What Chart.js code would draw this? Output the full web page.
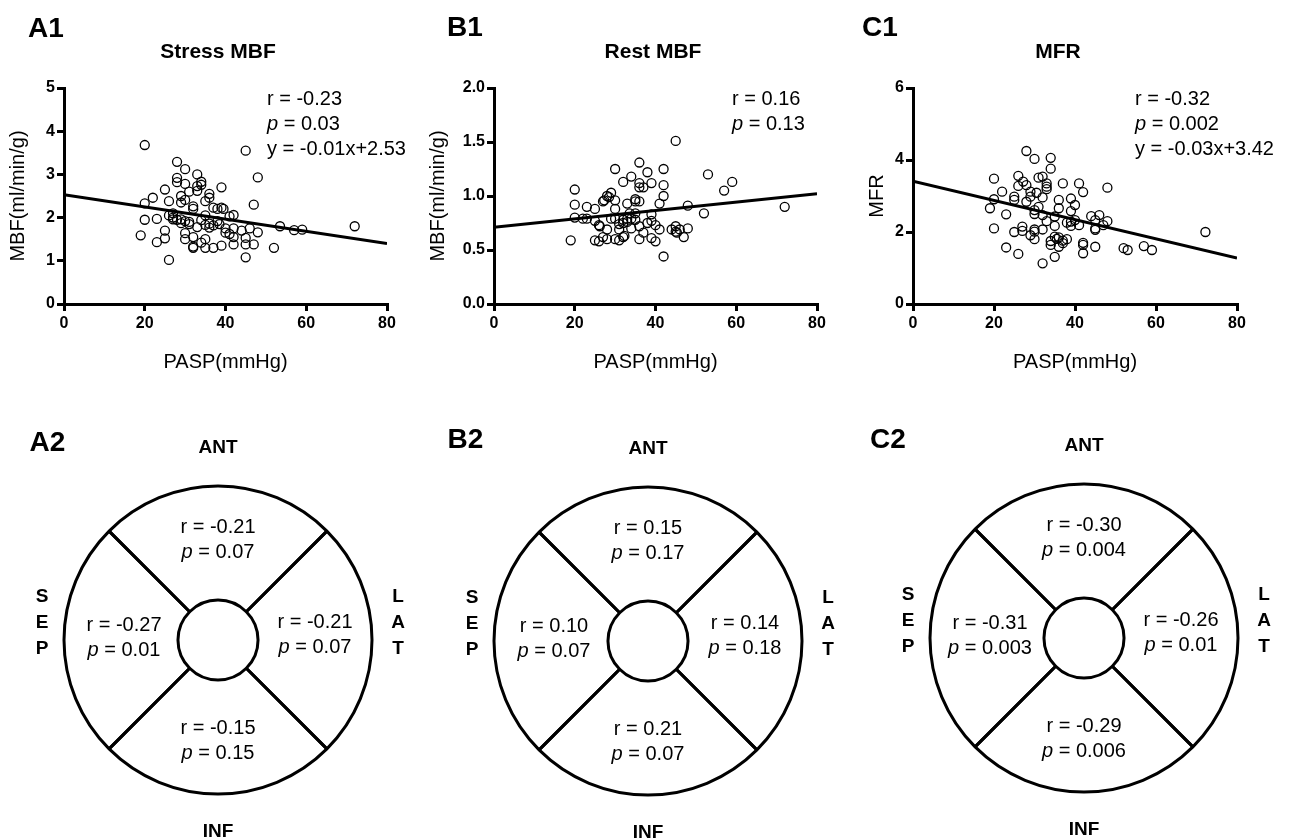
<!DOCTYPE html>
<html>
<head>
<meta charset="utf-8">
<script src="https://cdn.jsdelivr.net/npm/chart.js@4.4.1/dist/chart.umd.min.js"></script>
<style>
    body { margin: 0; background: #fff; width: 1295px; height: 840px; overflow: hidden; position: relative; }
    canvas { position: absolute; }
</style>
</head>
<body>
<canvas id="chartA1" width="430" height="390" style="left:0px;top:0px"></canvas>
<canvas id="chartB1" width="430" height="390" style="left:420px;top:0px"></canvas>
<canvas id="chartC1" width="440" height="390" style="left:855px;top:0px"></canvas>
<canvas id="chartA2" width="440" height="440" style="left:-2.5px;top:420px"></canvas>
<canvas id="chartB2" width="440" height="440" style="left:427.5px;top:421px"></canvas>
<canvas id="chartC2" width="440" height="440" style="left:864px;top:418px"></canvas>
<script>
const FONT = '"Liberation Sans", Arial, Helvetica, sans-serif';

// ---- scatter data (PASP vs flow) ----
const stressX = [20, 45, 28, 30, 33, 28, 48, 28, 34, 30, 34, 39, 25, 31, 33, 36, 29, 22, 36, 26, 30, 35, 29, 20, 32, 32, 37, 39, 39.5, 47,
    38, 27, 35, 42, 41, 26, 23, 20, 27, 28, 29, 30, 31, 31, 34, 38, 38.5, 35, 36, 37, 36, 29, 40, 42, 44, 46, 40, 48, 53.5, 57,
    59, 72, 33, 19, 25, 25, 23, 30, 32, 35, 42, 45, 34, 35, 32, 32, 37, 39, 42, 45, 47, 52, 45, 26, 30, 41, 33, 27];
const stressY = [3.68, 3.55, 3.29, 3.12, 3.0, 2.92, 2.93, 2.82, 2.83, 2.78, 2.76, 2.7, 2.65, 2.6, 2.62, 2.55, 2.5, 2.46, 2.46, 2.38, 2.41, 2.38, 2.35, 2.33, 2.26, 2.2, 2.23, 2.23, 2.2, 2.3,
    2.2, 2.1, 2.05, 2.06, 2.03, 2.05, 1.97, 1.95, 1.96, 1.95, 1.96, 1.92, 1.9, 1.85, 1.94, 1.92, 1.85, 1.83, 1.77, 1.82, 1.86, 1.87, 1.75, 1.75, 1.7, 1.75, 1.65, 1.66, 1.8, 1.71,
    1.72, 1.8, 1.78, 1.59, 1.7, 1.52, 1.43, 1.5, 1.55, 1.5, 1.55, 1.53, 1.42, 1.3, 1.33, 1.3, 1.3, 1.35, 1.38, 1.38, 1.38, 1.3, 1.08, 1.02, 1.64, 1.62, 2.73, 2.0];
const stressFitX = [0, 80];
const stressFitY = [2.53, 1.40];

const restX = [45, 36, 30, 42, 38, 53, 34, 32, 36, 39, 59, 36, 37, 42, 20, 57, 29, 28, 28.5, 42, 27, 27.3, 30, 35, 35, 36, 20, 23, 25, 33,
    41, 48, 72, 30, 33.6, 35, 39, 52, 20, 22, 23, 25, 29, 30, 32, 33, 34, 35, 26, 26.2, 31, 32, 33, 36, 38, 39, 40, 41, 45, 44,
    45, 45.3, 46, 48, 47, 28, 31, 34, 37, 27, 32, 32.3, 19, 25, 26, 28, 30, 31, 36, 39, 40, 42];
const restY = [1.51, 1.31, 1.25, 1.25, 1.22, 1.2, 1.18, 1.13, 1.12, 1.12, 1.13, 1.08, 1.08, 1.1, 1.06, 1.05, 1.03, 1.0, 0.99, 1.0, 0.95, 0.96, 0.96, 0.97, 0.95, 0.95, 0.92, 0.9, 0.88, 0.93,
    0.93, 0.91, 0.9, 0.88, 0.84, 0.84, 0.83, 0.84, 0.8, 0.79, 0.79, 0.77, 0.79, 0.79, 0.78, 0.79, 0.79, 0.78, 0.73, 0.72, 0.74, 0.75, 0.76, 0.72, 0.75, 0.77, 0.73, 0.69, 0.72, 0.69,
    0.67, 0.66, 0.69, 0.7, 0.62, 0.69, 0.69, 0.7, 0.66, 0.62, 0.62, 0.63, 0.59, 0.59, 0.58, 0.6, 0.6, 0.59, 0.6, 0.61, 0.58, 0.44];
const restFitX = [0, 80];
const restFitY = [0.71, 1.02];

const mfrX = [28, 30, 34, 34, 26, 27.2, 31, 32, 20, 28, 33, 33, 33, 37, 41, 48, 26, 29, 30.5, 42, 22, 25, 25, 32, 36, 39, 20, 28, 29, 40,
    31, 36, 19, 30, 39, 30, 23, 32, 35, 44, 46, 40, 39, 38, 33, 41, 39, 45, 48, 47, 35, 45, 45, 27, 27, 20, 30, 30, 32, 25,
    72.2, 29, 30, 35, 35.5, 36, 38, 37, 34, 42, 42, 34, 36, 37, 45, 52, 53, 57, 59, 23, 42, 26, 35, 32];
const mfrY = [4.25, 4.03, 4.06, 3.76, 3.56, 3.4, 3.51, 3.54, 3.48, 3.3, 3.35, 3.26, 3.19, 3.35, 3.35, 3.23, 3.28, 3.12, 3.09, 3.11, 3.12, 2.98, 2.89, 2.96, 2.89, 2.93, 2.91, 2.84, 2.98, 2.75,
    2.7, 2.66, 2.66, 2.61, 2.58, 2.5, 2.49, 2.47, 2.43, 2.44, 2.47, 2.33, 2.29, 2.26, 2.3, 2.19, 2.17, 2.33, 2.3, 2.19, 2.17, 2.1, 2.06, 2.15, 2.03, 2.1, 2.07, 2.01, 2.07, 2.0,
    2.0, 1.91, 1.8, 1.87, 1.81, 1.85, 1.8, 1.76, 1.75, 1.7, 1.64, 1.64, 1.59, 1.69, 1.59, 1.55, 1.5, 1.61, 1.5, 1.57, 1.41, 1.39, 1.31, 1.13];
const mfrFitX = [0, 80];
const mfrFitY = [3.41, 1.28];

// ---- polar map data (order: ANT, LAT, INF, SEP) ----
const segNames = ['ANT', 'LAT', 'INF', 'SEP'];
const segWeights = [1, 1, 1, 1];
const stressR = ['-0.21', '-0.21', '-0.15', '-0.27'];
const stressP = ['0.07', '0.07', '0.15', '0.01'];
const restR = ['0.15', '0.14', '0.21', '0.10'];
const restP = ['0.17', '0.18', '0.07', '0.07'];
const mfrR = ['-0.30', '-0.26', '-0.29', '-0.31'];
const mfrP = ['0.004', '0.01', '0.006', '0.003'];

// draws one text item; a line starting with "p " gets an italic p
function drawItem(ctx, it) {
    const size = it.size || 20;
    const normal = (it.bold ? 'bold ' : '') + size + 'px ' + FONT;
    ctx.textBaseline = 'middle';
    if (it.s.startsWith('p ')) {
        const rest = it.s.slice(1);
        ctx.font = 'italic ' + size + 'px ' + FONT;
        const w1 = ctx.measureText('p').width;
        ctx.font = normal;
        const w2 = ctx.measureText(rest).width;
        let x0 = it.align === 'center' ? it.x - (w1 + w2) / 2 : it.x;
        ctx.textAlign = 'left';
        ctx.font = 'italic ' + size + 'px ' + FONT;
        ctx.fillText('p', x0, it.y);
        ctx.font = normal;
        ctx.fillText(rest, x0 + w1, it.y);
    } else {
        ctx.font = normal;
        ctx.textAlign = it.align || 'left';
        ctx.fillText(it.s, it.x, it.y);
    }
}

// items are given in page coordinates, ox/oy is the canvas position
function textPlugin(items, ox, oy) {
    return {
        id: 'pageText',
        afterDraw(chart) {
            const ctx = chart.ctx;
            ctx.save();
            ctx.translate(-ox, -oy);
            ctx.fillStyle = '#000';
            items.forEach(it => drawItem(ctx, it));
            ctx.restore();
        }
    };
}

function makeScatter(id, o) {
    const pts = o.xs.map((x, i) => ({x: x, y: o.ys[i]}));
    const fit = o.fitX.map((x, i) => ({x: x, y: o.fitY[i]}));
    const axisStyle = {
        grid: {display: true, drawOnChartArea: false, drawTicks: true, tickLength: 7, color: '#000', lineWidth: 3},
        border: {display: true, color: '#000', width: 3}
    };
    return new Chart(document.getElementById(id), {
        type: 'scatter',
        data: {
            datasets: [
                {data: fit, type: 'line', showLine: true, borderColor: '#000', borderWidth: 3, pointRadius: 0, fill: false},
                {data: pts, pointRadius: 4.5, borderWidth: 1.3, borderColor: '#000', backgroundColor: 'rgba(0,0,0,0)'}
            ]
        },
        options: {
            responsive: false,
            animation: false,
            events: [],
            layout: {padding: {left: 0, top: 88, right: o.padRight, bottom: 0}},
            plugins: {legend: {display: false}, tooltip: {enabled: false}},
            scales: {
                x: Object.assign({
                    type: 'linear', min: 0, max: 80,
                    ticks: {stepSize: 20, color: '#000', padding: 3, font: {family: FONT, size: 16, weight: 'bold'}},
                    title: {display: true, text: 'PASP(mmHg)', color: '#000', font: {family: FONT, size: 20}, padding: {top: 0, bottom: 16}},
                    afterFit: s => { s.height = 86; }
                }, axisStyle),
                y: Object.assign({
                    type: 'linear', min: 0, max: o.yMax,
                    ticks: {stepSize: o.yStep, color: '#000', padding: 2, font: {family: FONT, size: 16, weight: 'bold'},
                        callback: v => v.toFixed(o.yDec)},
                    title: {display: true, text: o.yTitle, color: '#000', font: {family: FONT, size: 20}, padding: {top: o.yTitlePad, bottom: 0}},
                    afterFit: s => { s.width = o.yWidth; }
                }, axisStyle)
            }
        },
        plugins: [textPlugin(o.texts, o.ox, 0)]
    });
}

makeScatter('chartA1', {
    xs: stressX, ys: stressY, fitX: stressFitX, fitY: stressFitY,
    yMax: 5, yStep: 1, yDec: 0, yTitle: 'MBF(ml/min/g)', yWidth: 64, yTitlePad: 6, padRight: 43, ox: 0,
    texts: [
        {s: 'A1', x: 28, y: 29, size: 28, bold: true},
        {s: 'Stress MBF', x: 218, y: 52, size: 21, bold: true, align: 'center'},
        {s: 'r = -0.23', x: 267, y: 99},
        {s: 'p = 0.03', x: 267, y: 124},
        {s: 'y = -0.01x+2.53', x: 267, y: 149}
    ]
});

makeScatter('chartB1', {
    xs: restX, ys: restY, fitX: restFitX, fitY: restFitY,
    yMax: 2, yStep: 0.5, yDec: 1, yTitle: 'MBF(ml/min/g)', yWidth: 74, yTitlePad: 6, padRight: 33, ox: 420,
    texts: [
        {s: 'B1', x: 447, y: 28, size: 28, bold: true},
        {s: 'Rest MBF', x: 653, y: 52, size: 21, bold: true, align: 'center'},
        {s: 'r = 0.16', x: 732, y: 99},
        {s: 'p = 0.13', x: 732, y: 124}
    ]
});

makeScatter('chartC1', {
    xs: mfrX, ys: mfrY, fitX: mfrFitX, fitY: mfrFitY,
    yMax: 6, yStep: 2, yDec: 0, yTitle: 'MFR', yWidth: 58, yTitlePad: 10, padRight: 58, ox: 855,
    texts: [
        {s: 'C1', x: 862, y: 28, size: 28, bold: true},
        {s: 'MFR', x: 1058, y: 52, size: 21, bold: true, align: 'center'},
        {s: 'r = -0.32', x: 1135, y: 99},
        {s: 'p = 0.002', x: 1135, y: 124},
        {s: 'y = -0.03x+3.42', x: 1135, y: 149}
    ]
});

// polar maps
function makeBullseye(id, o) {
    const cx = o.cx, cy = o.cy;
    // text offsets for ANT, LAT, INF, SEP regions
    const offs = [[0, -113, -88], [97, -18, 7], [0, 88, 113], [-94, -15, 10]];
    const texts = [
        {s: o.label, x: o.lx, y: o.ly, size: 28, bold: true},
        {s: 'ANT', x: cx, y: cy - 192, size: 19, bold: true, align: 'center'},
        {s: 'INF', x: cx, y: cy + 192, size: 19, bold: true, align: 'center'}
    ];
    ['S', 'E', 'P'].forEach((c, i) => texts.push({s: c, x: cx - 176, y: cy - 43 + i * 26, size: 19, bold: true, align: 'center'}));
    ['L', 'A', 'T'].forEach((c, i) => texts.push({s: c, x: cx + 180, y: cy - 43 + i * 26, size: 19, bold: true, align: 'center'}));
    segNames.forEach((n, i) => {
        const d = offs[i];
        texts.push({s: 'r = ' + o.r[i], x: cx + d[0], y: cy + d[1], align: 'center'});
        texts.push({s: 'p = ' + o.p[i], x: cx + d[0], y: cy + d[2], align: 'center'});
    });
    return new Chart(document.getElementById(id), {
        type: 'doughnut',
        data: {
            labels: segNames,
            datasets: [{data: segWeights, backgroundColor: 'rgba(0,0,0,0)', borderColor: '#000', borderWidth: 3}]
        },
        options: {
            responsive: false,
            animation: false,
            events: [],
            radius: 154,
            cutout: '26%',
            rotation: -45,
            plugins: {legend: {display: false}, tooltip: {enabled: false}}
        },
        plugins: [textPlugin(texts, cx - 220, cy - 220)]
    });
}

makeBullseye('chartA2', {cx: 217.5, cy: 640, label: 'A2', lx: 29, ly: 443, r: stressR, p: stressP});
makeBullseye('chartB2', {cx: 647.5, cy: 641, label: 'B2', lx: 447, ly: 440, r: restR, p: restP});
makeBullseye('chartC2', {cx: 1084, cy: 638, label: 'C2', lx: 870, ly: 440, r: mfrR, p: mfrP});
</script>
</body>
</html>
